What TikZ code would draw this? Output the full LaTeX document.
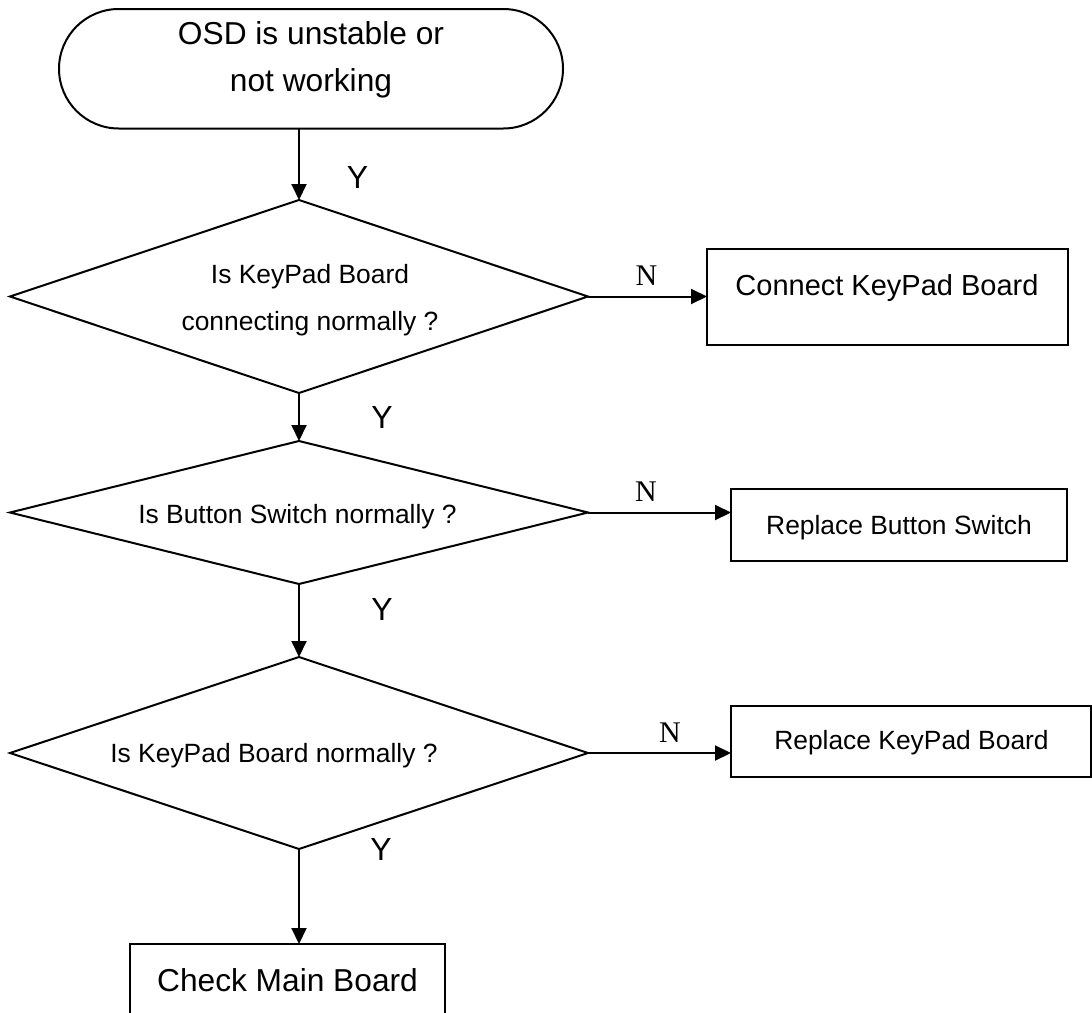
\documentclass[tikz,border=0pt]{standalone}
\usepackage{fontspec}
\setmainfont{Liberation Sans}
\newfontfamily\tnrfont{Liberation Serif}
\usetikzlibrary{shapes.geometric,shapes.misc,arrows.meta}
\begin{document}
\begin{tikzpicture}[x=1pt,y=-1pt,
  line width=2pt,
  shapebox/.style={draw, outer sep=0pt, inner sep=0pt},
  decision/.style={shapebox, diamond},
  terminal/.style={shapebox, rounded rectangle},
  procbox/.style={shapebox, rectangle},
  arr/.style={-{Triangle[length=16pt,width=15pt]}},
  txt/.style={anchor=base, inner sep=0pt, font=\fontsize{26.4pt}{30pt}\selectfont},
  midtxt/.style={anchor=base, inner sep=0pt, font=\fontsize{29pt}{34pt}\selectfont},
  bigtxt/.style={anchor=base, inner sep=0pt, font=\fontsize{31.7pt}{36pt}\selectfont},
  ylab/.style={anchor=base, inner sep=0pt, font=\fontsize{32pt}{36pt}\selectfont},
  nlab/.style={anchor=base, inner sep=0pt, font=\tnrfont\fontsize{30pt}{34pt}\selectfont},
]
\useasboundingbox (0,0) rectangle (1092,1012);
\clip (0,0) rectangle (1092,1012);

% shapes
\node[terminal, minimum width=504pt, minimum height=119.5pt] (term) at (311,68.75) {};
\node[decision, minimum width=578pt, minimum height=193pt] (d1) at (299,296.5) {};
\node[decision, minimum width=578pt, minimum height=143pt] (d2) at (299,512.5) {};
\node[decision, minimum width=578pt, minimum height=192pt] (d3) at (299,753) {};
\node[procbox, minimum width=361pt, minimum height=96pt] (b1) at (887.5,297) {};
\node[procbox, minimum width=336pt, minimum height=72pt] (b2) at (899,525) {};
\node[procbox, minimum width=360pt, minimum height=71pt] (b3) at (911,741.5) {};
\node[procbox, minimum width=315pt, minimum height=96pt] (b4) at (287.5,992) {};

% texts
\node[bigtxt] (term-t1) at (311,44.5) {OSD is unstable or};
\node[bigtxt] (term-t2) at (311,91.5) {not working};
\node[txt] (d1-t1) at (310,283.3) {Is KeyPad Board};
\node[txt] (d1-t2) at (310,330.5) {connecting normally ?};
\node[txt] (d2-t) at (297.5,523.3) {Is Button Switch normally ?};
\node[txt] (d3-t) at (274,762.7) {Is KeyPad Board normally ?};
\node[midtxt] (b1-t) at (887,295) {Connect KeyPad Board};
\node[txt] (b2-t) at (899,534) {Replace Button Switch};
\node[txt] (b3-t) at (911.5,749) {Replace KeyPad Board};
\node[bigtxt] (b4-t) at (287.5,991) {Check Main Board};

% connectors
\draw[arr] (term.south -| d1.north) -- (d1.north);
\draw[arr] (d1.east) -- (d1.east -| b1.west);
\draw[arr] (d1.south) -- (d2.north);
\draw[arr] (d2.east) -- (d2.east -| b2.west);
\draw[arr] (d2.south) -- (d3.north);
\draw[arr] (d3.east) -- (d3.east -| b3.west);
\draw[arr] (d3.south) -- (d3.south |- b4.north);

% labels
\node[ylab] (y1) at (357.5,188) {Y};
\node[ylab] (y2) at (382,428) {Y};
\node[ylab] (y3) at (382,620) {Y};
\node[ylab] (y4) at (381,860) {Y};
\node[nlab] (n1) at (646.5,285) {N};
\node[nlab] (n2) at (646,501) {N};
\node[nlab] (n3) at (670,742) {N};
\end{tikzpicture}
\end{document}
